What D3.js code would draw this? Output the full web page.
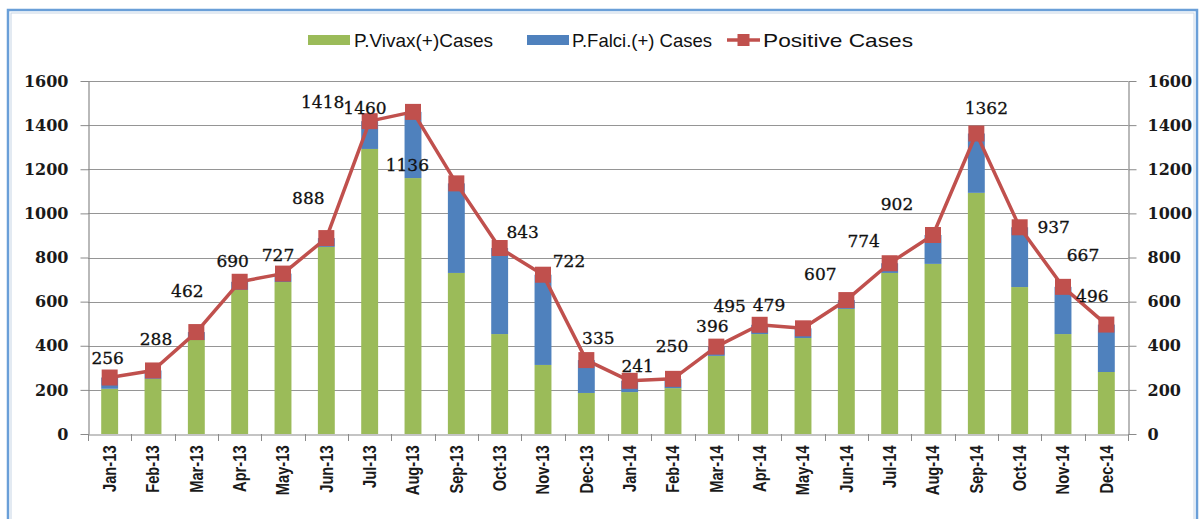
<!DOCTYPE html>
<html>
<head>
<meta charset="utf-8">
<script src="https://cdn.jsdelivr.net/npm/d3@7"></script>
<style>
  html, body { margin: 0; padding: 0; background: #fff; }
  svg { display: block; }
</style>
</head>
<body>
<svg id="chart" width="1203" height="519"></svg>
<script>
// ---------- data ----------
const months = ["Jan-13","Feb-13","Mar-13","Apr-13","May-13","Jun-13","Jul-13","Aug-13","Sep-13","Oct-13","Nov-13","Dec-13",
                "Jan-14","Feb-14","Mar-14","Apr-14","May-14","Jun-14","Jul-14","Aug-14","Sep-14","Oct-14","Nov-14","Dec-14"];
const vivax = [205, 250, 426, 653, 689, 848, 1292, 1160, 730, 453, 313, 186,
               190, 208, 354, 453, 435, 567, 730, 771, 1093, 666, 453, 281];
const falci = [51, 38, 36, 37, 38, 40, 126, 300, 406, 390, 409, 149,
               51, 42, 42, 42, 44, 40, 44, 131, 269, 271, 214, 215];
const positive = [256, 288, 462, 690, 727, 888, 1418, 1460, 1136, 843, 722, 335,
                  241, 250, 396, 495, 479, 607, 774, 902, 1362, 937, 667, 496];
const yTicks = [0, 200, 400, 600, 800, 1000, 1200, 1400, 1600];
const seriesNames = ["P.Vivax(+)Cases", "P.Falci.(+) Cases", "Positive Cases"];

// ---------- layout / style (not data) ----------
const labelOffsets = [[-2,-20],[3,-31],[-9,-41],[-7,-21],[-5,-19],[-18,-40],[-47,-19],[-48,-4],[-49,-18],[23,-16],[26,-14],[12,-22],
                      [8,-15],[-1,-33],[-4,-21],[-30,-19],[-34,-23],[-26,-26],[-26,-22],[-36,-31],[10,-26],[34,0],[20,-32],[-14,-29]];
const C = { green: "#9bbb59", blue: "#4f81bd", red: "#c0504d", grid: "#959595", axis: "#8a8a8a" };
const plot = { left: 88, right: 1128, top: 81, bottom: 434 };

const svg = d3.select("#chart");

// frame
svg.append("rect").attr("x", 8).attr("y", 10).attr("width", 1189).attr("height", 540)
  .attr("fill", "none").attr("stroke", "#6a9fd8").attr("stroke-width", 2.5);
svg.append("rect").attr("x", 11).attr("y", 13).attr("width", 1183).attr("height", 540)
  .attr("fill", "none").attr("stroke", "#c8d6e6").attr("stroke-width", 1);

const x = d3.scaleBand().domain(months).range([plot.left, plot.right]).paddingInner(0).paddingOuter(0);
const y = d3.scaleLinear().domain([0, 1600]).range([plot.bottom, plot.top]);
const barW = x.bandwidth() * 0.39;

// gridlines
svg.append("g").selectAll("line").data(yTicks.filter(d => d > 0)).join("line")
  .attr("x1", plot.left).attr("x2", plot.right)
  .attr("y1", d => Math.round(y(d)) + 0.5).attr("y2", d => Math.round(y(d)) + 0.5)
  .attr("stroke", C.grid).attr("stroke-width", 1);

// bars (stacked)
const stackData = months.map((m, i) => ({ m, vivax: vivax[i], falci: falci[i] }));
const stacked = d3.stack().keys(["vivax", "falci"])(stackData);
const colors = { vivax: C.green, falci: C.blue };
svg.append("g").selectAll("g").data(stacked).join("g")
  .attr("fill", d => colors[d.key])
  .selectAll("rect").data(d => d).join("rect")
  .attr("x", d => x(d.data.m) + (x.bandwidth() - barW) / 2)
  .attr("width", barW)
  .attr("y", d => y(d[1]))
  .attr("height", d => y(d[0]) - y(d[1]));

// axes
const fontSerif = "'DejaVu Serif', 'Liberation Serif', serif";
const yLeft = svg.append("g").attr("transform", `translate(${plot.left + 0.5},0)`)
  .call(d3.axisLeft(y).tickValues(yTicks).tickFormat(d3.format("d")).tickSize(8).tickPadding(12).tickSizeOuter(0));
const yRight = svg.append("g").attr("transform", `translate(${plot.right + 0.5},0)`)
  .call(d3.axisRight(y).tickValues(yTicks).tickFormat(d3.format("d")).tickSize(8).tickPadding(11).tickSizeOuter(0));
[yLeft, yRight].forEach(g => {
  g.select(".domain").attr("stroke", C.axis).attr("stroke-width", 1.2);
  g.selectAll(".tick line").attr("stroke", C.axis);
  g.selectAll(".tick text").attr("font-family", fontSerif).attr("font-weight", "bold")
    .attr("font-size", 16).attr("fill", "#1a1a1a");
});

const xAxis = svg.append("g").attr("transform", `translate(0,${plot.bottom + 0.5})`)
  .call(d3.axisBottom(x).tickSize(0).tickSizeOuter(0));
xAxis.select(".domain").attr("stroke", C.axis).attr("stroke-width", 1.2);
xAxis.selectAll(".tick text")
  .attr("font-family", "'Liberation Sans', Arial, sans-serif").attr("font-weight", "bold")
  .attr("font-size", 17.5).attr("fill", "#1a1a1a")
  .attr("transform", "rotate(-90) scale(0.84,1)")
  .attr("text-anchor", "end").attr("dominant-baseline", "central")
  .attr("x", -13).attr("y", 0).attr("dy", null);
// category boundary ticks
svg.append("g").selectAll("line").data(months.concat(["end"])).join("line")
  .attr("x1", (d, i) => Math.round(plot.left + i * x.step()) + 0.5)
  .attr("x2", (d, i) => Math.round(plot.left + i * x.step()) + 0.5)
  .attr("y1", plot.bottom).attr("y2", plot.bottom + 7)
  .attr("stroke", C.axis);

// line + markers
const cx = m => x(m) + x.bandwidth() / 2;
const line = d3.line().x((d, i) => cx(months[i])).y(d => y(d));
svg.append("path").datum(positive).attr("d", line)
  .attr("fill", "none").attr("stroke", C.red).attr("stroke-width", 3.5).attr("stroke-linejoin", "round");
const mk = 16;
svg.append("g").selectAll("rect").data(positive).join("rect")
  .attr("x", (d, i) => cx(months[i]) - mk / 2).attr("y", d => y(d) - mk / 2)
  .attr("width", mk).attr("height", mk).attr("fill", C.red);

// data labels
svg.append("g").selectAll("text").data(positive).join("text")
  .attr("x", (d, i) => cx(months[i]) + labelOffsets[i][0])
  .attr("y", (d, i) => y(d) + labelOffsets[i][1])
  .attr("text-anchor", "middle").attr("dominant-baseline", "central")
  .attr("font-family", fontSerif).attr("font-size", 17).attr("fill", "#111")
  .style("stroke", "#111").style("stroke-width", 0.3)
  .text(d => d);

// legend
const legend = svg.append("g").attr("font-family", "'Liberation Sans', Arial, sans-serif").attr("font-size", 19).attr("fill", "#111");
const legItems = [
  { name: seriesNames[0], type: "rect", color: C.green, sx: 308, tx: 354, tw: 139 },
  { name: seriesNames[1], type: "rect", color: C.blue, sx: 527, tx: 572, tw: 140 },
  { name: seriesNames[2], type: "line", color: C.red, sx: 727, tx: 763, tw: 150 }
];
const ly = 40;
legItems.forEach(it => {
  if (it.type === "rect") {
    legend.append("rect").attr("x", it.sx).attr("y", ly - 5).attr("width", 42).attr("height", 10).attr("fill", it.color);
  } else {
    legend.append("line").attr("x1", it.sx).attr("x2", it.sx + 33).attr("y1", ly).attr("y2", ly)
      .attr("stroke", it.color).attr("stroke-width", 3.5);
    legend.append("rect").attr("x", it.sx + 16.5 - 6).attr("y", ly - 6).attr("width", 12).attr("height", 12).attr("fill", it.color);
  }
  legend.append("text").attr("x", it.tx).attr("y", ly).attr("dominant-baseline", "central")
    .attr("textLength", it.tw).attr("lengthAdjust", "spacingAndGlyphs").text(it.name);
});
</script>
</body>
</html>
